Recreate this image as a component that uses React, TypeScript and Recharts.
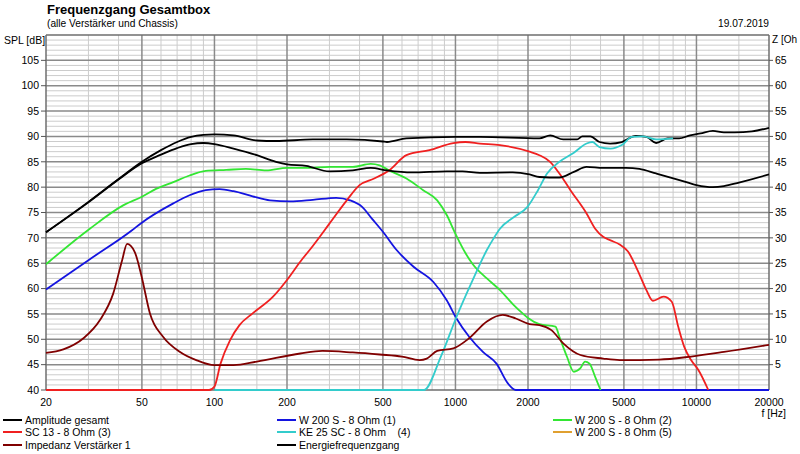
import React from 'react';
import { LineChart, Line, XAxis, YAxis, ReferenceLine } from 'recharts';

// ---- axis / grid values ----
const xTicks = [20, 50, 100, 200, 500, 1000, 2000, 5000, 10000, 20000];
const xMinor = [30, 40, 60, 70, 80, 90, 150, 300, 400, 600, 700, 800, 900, 1500, 3000, 4000, 6000, 7000, 8000, 9000, 15000];
const xMajor = [50, 100, 200, 500, 1000, 2000, 5000, 10000];
const splTicks = [40, 45, 50, 55, 60, 65, 70, 75, 80, 85, 90, 95, 100, 105];
const zTicks = [5, 10, 15, 20, 25, 30, 35, 40, 45, 50, 55, 60, 65];
const yMinor = [41,42,43,44,46,47,48,49,51,52,53,54,56,57,58,59,61,62,63,64,66,67,68,69,71,72,73,74,76,77,78,79,81,82,83,84,86,87,88,89,91,92,93,94,96,97,98,99,101,102,103,104,106,107,108,109];
const yMajor = [45, 50, 55, 60, 65, 70, 75, 80, 85, 90, 95, 100, 105];

// ---- series ----
const fAmp = [20,30,40,50,60,70,80,90,100,120,150,180,256,354,500,520,626,1000,1264,2230,2474,2800,3200,3360,3630,3960,4380,4900,5600,6200,6800,7600,8470,9400,10400,11700,13000,14400,17000,20000];
const amp = [71.1,77.1,81.6,85.0,87.3,88.9,89.9,90.3,90.4,90.2,89.2,89.1,89.4,89.4,89.0,88.9,89.6,89.9,89.9,89.6,90.2,89.4,89.4,90.0,90.0,88.9,88.6,88.9,90.1,89.9,88.7,89.6,89.6,90.2,90.6,91.1,90.8,90.8,91.0,91.7];

const fEnergy = [20,30,40,50,60,70,80,90,100,120,150,180,200,240,300,375,445,520,660,920,1070,1264,1730,2030,2230,2700,3100,3500,4100,5100,5800,6800,8500,10000,11700,13000,15000,20000];
const energy = [71.1,77.0,81.5,84.7,86.4,87.7,88.5,88.7,88.5,87.6,86.3,85.0,84.5,84.2,83.1,83.3,83.8,83.3,82.9,83.1,83.1,82.8,82.9,82.5,82.0,81.9,83.0,84.0,83.8,83.8,83.6,82.7,81.4,80.4,80.0,80.2,80.9,82.5];

const fW1 = [20,30,45.5,49.3,67.5,78.8,92,105,120,144,170,206,256,320,365,410,450,500,570,670,810,920,1010,1140,1300,1480,1650,1780,20000];
const w1 = [59.8,65.6,71.5,72.8,76.8,78.4,79.4,79.6,79.2,78.2,77.4,77.2,77.5,77.9,77.4,76.1,73.8,71.2,67.6,64.3,61.3,57.7,54.1,50.5,47.5,45.2,41.3,40,40];

const fW2 = [20,30.4,41.8,50,57.5,67.5,78.8,92,112,135,164,200,240,300,375,445,485,530,626,735,840,920,1000,1100,1180,1350,1530,1750,1900,2000,2230,2600,2700,2900,3100,3300,3450,3600,3800,4000];
const w2 = [64.8,71.8,76.4,78.1,79.7,81.0,82.3,83.2,83.4,83.6,83.3,83.8,83.8,84.0,84.0,84.6,84.3,83.3,81.7,79.4,77.4,74.5,70.8,67.0,64.8,62.0,59.7,56.7,55.1,54.2,53.0,52.5,50.5,46.6,43.6,44.3,45.6,45.2,42.6,40];

const fSc = [20,95,100,106,116,127,144,175,200,227,255,300,354,400,460,530,626,780,980,1100,1264,1530,2030,2230,2470,2700,3000,3500,3800,4100,4400,4800,5200,5700,6200,6600,7300,7900,8400,8900,9500,10200,11200];
const sc = [40,40,40.7,45.2,49.8,52.8,55.1,58.4,61.7,65.3,68.3,72.8,77.4,80.4,81.7,83.3,86.3,87.3,88.7,88.9,88.6,88.3,87.0,86.3,85.0,82.7,79.4,74.8,71.8,70.2,69.5,68.7,67.3,63.6,59.7,57.6,58.4,57.4,52.5,48.5,45.9,43.9,40];

const fKe = [100,740,870,1010,1180,1350,1440,1530,1750,1990,2200,2400,2700,3100,3500,3700,3960,4400,4900,5400,6000,6800,8000];
const ke = [40,40,46.6,54.4,61.7,67.6,69.9,71.8,74.1,76.1,79.4,82.7,85.0,86.8,88.6,88.9,87.9,87.6,88.3,89.9,90.0,89.4,89.6];

const fImp = [20,23.6,28.6,33.5,38,41.4,43.4,46.7,49.9,54,61.2,72,84,100,120,150,227,280,375,485,600,710,760,840,980,1140,1350,1570,1780,2030,2230,2500,2800,3300,4100,4800,7000,9500,13000,20000];
const imp = [7.3,8.0,10.2,13.8,19.0,25.6,28.8,27.2,22.3,15.1,10.5,7.5,5.9,4.9,4.9,5.6,7.2,7.7,7.4,7.0,6.6,5.9,6.2,7.7,8.2,10.2,13.5,14.8,14.1,13.0,12.8,11.8,9.2,6.9,6.2,5.9,6.0,6.6,7.5,8.9];

const legendLabels = ['Amplitude gesamt', 'W 200 S - 8 Ohm (1)', 'W 200 S - 8 Ohm (2)', 'SC 13 - 8 Ohm (3)', 'KE 25 SC - 8 Ohm    (4)', 'W 200 S - 8 Ohm (5)', 'Impedanz Verstärker 1', 'Energiefrequenzgang'];
const legendColors = ['#000000', '#1414e0', '#33e633', '#f02020', '#33cccc', '#e0a030', '#800000', '#000000'];

const toData = (fs: number[], vs: number[]) => fs.map((f, i) => ({ f, v: vs[i] }));

const FONT = '"Liberation Sans", Arial, sans-serif';
const MINOR = '#cccccc';
const MAJOR = '#8a8a8a';
const BORDER = '#6e6e6e';

export default function App() {
  const lineProps = { type: 'monotone' as const, dataKey: 'v', dot: false, isAnimationActive: false, strokeWidth: 1.8 };
  return (
    <div style={{ position: 'relative', width: 800, height: 454, fontFamily: FONT, background: '#fff', overflow: 'hidden' }}>
      <style>{'body{margin:0}'}</style>
      <LineChart width={800} height={454} margin={{ top: 35, right: 6, bottom: 44, left: 6 }}>
        <XAxis
          xAxisId={0}
          dataKey="f"
          type="number"
          scale="log"
          domain={[20, 20000]}
          ticks={xTicks}
          tickLine={false}
          axisLine={false}
          tickSize={4}
          tickMargin={5}
          height={20}
          tick={{ fontSize: 10.5, fill: '#000', fontFamily: FONT }}
        />
        <YAxis
          yAxisId={0}
          domain={[40, 110]}
          ticks={splTicks}
          width={40}
          axisLine={false}
          tickSize={5}
          tickMargin={2}
          tickLine={{ stroke: '#555' }}
          tick={{ fontSize: 10.5, fill: '#000', fontFamily: FONT }}
        />
        <YAxis
          yAxisId="z"
          orientation="right"
          domain={[0, 70]}
          ticks={zTicks}
          width={25}
          axisLine={false}
          tickSize={4}
          tickMargin={2}
          tickLine={{ stroke: '#555' }}
          tick={{ fontSize: 10.5, fill: '#000', fontFamily: FONT }}
        />
        {yMinor.map((y) => (
          <ReferenceLine key={'ym' + y} yAxisId={0} y={y} stroke={MINOR} strokeWidth={1} />
        ))}
        {xMinor.map((x) => (
          <ReferenceLine key={'xm' + x} yAxisId={0} x={x} stroke={MINOR} strokeWidth={1} />
        ))}
        {yMajor.map((y) => (
          <ReferenceLine key={'yM' + y} yAxisId={0} y={y} stroke={MAJOR} strokeWidth={1.5} />
        ))}
        {xMajor.map((x) => (
          <ReferenceLine key={'xM' + x} yAxisId={0} x={x} stroke={MAJOR} strokeWidth={1.5} />
        ))}
        <ReferenceLine yAxisId={0} x={20} stroke={BORDER} strokeWidth={1.5} />
        <ReferenceLine yAxisId={0} x={20000} stroke={BORDER} strokeWidth={1.5} />
        <ReferenceLine yAxisId={0} y={110} stroke={BORDER} strokeWidth={1.5} />
        <ReferenceLine yAxisId={0} y={40} stroke={BORDER} strokeWidth={1.5} />

        <Line {...lineProps} yAxisId={0} data={toData(fAmp, amp)} stroke="#000000" />
        <Line {...lineProps} yAxisId={0} data={toData(fW1, w1)} stroke="#1414e0" />
        <Line {...lineProps} yAxisId={0} data={toData(fW2, w2)} stroke="#33e633" />
        <Line {...lineProps} yAxisId={0} data={toData(fSc, sc)} stroke="#f02020" />
        <Line {...lineProps} yAxisId={0} data={toData(fKe, ke)} stroke="#33cccc" />
        <Line {...lineProps} yAxisId="z" data={toData(fImp, imp)} stroke="#800000" />
        <Line {...lineProps} yAxisId={0} data={toData(fEnergy, energy)} stroke="#000000" />
      </LineChart>

      <div style={{ position: 'absolute', left: 47, top: 2, fontSize: 13, fontWeight: 'bold', color: '#000', whiteSpace: 'nowrap' }}>
        Frequenzgang Gesamtbox
      </div>
      <div style={{ position: 'absolute', left: 47, top: 18, fontSize: 10.2, color: '#000', whiteSpace: 'nowrap' }}>
        (alle Verstärker und Chassis)
      </div>
      <div style={{ position: 'absolute', right: 31, top: 18, fontSize: 10.2, color: '#000', whiteSpace: 'nowrap' }}>
        19.07.2019
      </div>
      <div style={{ position: 'absolute', left: 4, top: 34, fontSize: 10.5, color: '#000', whiteSpace: 'nowrap' }}>
        SPL [dB]
      </div>
      <div style={{ position: 'absolute', left: 772, top: 34, fontSize: 10, color: '#000', whiteSpace: 'nowrap' }}>
        Z [Oh
      </div>
      <div style={{ position: 'absolute', right: 14, top: 407, fontSize: 10.5, color: '#000', whiteSpace: 'nowrap' }}>
        f [Hz]
      </div>

      {legendLabels.map((label, i) => {
        const col = i % 3;
        const row = Math.floor(i / 3);
        const left = [3, 277, 553][col];
        const top = 413 + row * 12.7;
        return (
          <div key={label} style={{ position: 'absolute', left, top, height: 13, display: 'flex', alignItems: 'center', whiteSpace: 'pre', fontSize: 10.5, color: '#000' }}>
            <span style={{ display: 'inline-block', width: 19, height: 2, background: legendColors[i], marginRight: 3 }} />
            <span>{label}</span>
          </div>
        );
      })}
    </div>
  );
}
